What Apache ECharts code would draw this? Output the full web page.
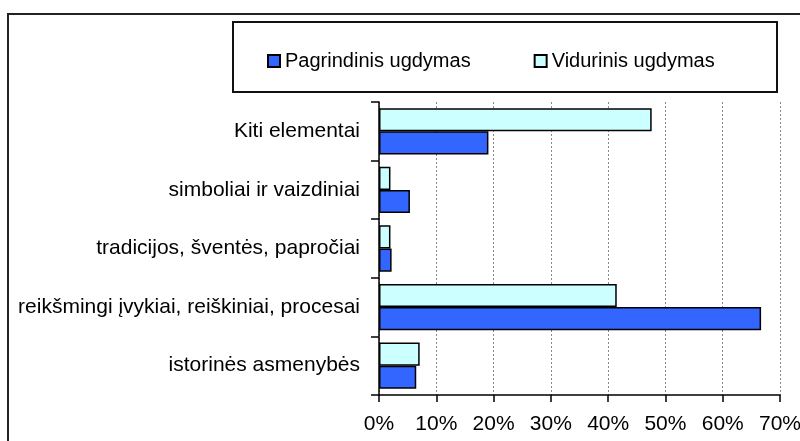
<!DOCTYPE html>
<html>
<head>
<meta charset="utf-8">
<script src="https://cdn.jsdelivr.net/npm/echarts@6/dist/echarts.min.js"></script>
<style>
  html, body { margin: 0; padding: 0; background: #fff; }
  #chart { width: 800px; height: 441px; }
</style>
</head>
<body>
<div id="chart"></div>
<script>
// categories, bottom to top (as drawn on the y axis)
var categories = [
  'istorinės asmenybės',
  'reikšmingi įvykiai, reiškiniai, procesai',
  'tradicijos, šventės, papročiai',
  'simboliai ir vaizdiniai',
  'Kiti elementai'
];
var seriesNames = ['Pagrindinis ugdymas', 'Vidurinis ugdymas'];
// percent values
var pagrindinis = [6.5, 66.7, 2.2, 5.4, 19.1];
var vidurinis = [7.1, 41.5, 2.0, 2.0, 47.6];
var xTicks = [0, 10, 20, 30, 40, 50, 60, 70];

var font = 'Liberation Sans, Arial, sans-serif';
var chart = echarts.init(document.getElementById('chart'));

chart.setOption({
  animation: false,
  backgroundColor: '#fff',
  textStyle: { fontFamily: font },
  graphic: [
    // outer chart frame (only top and left visible)
    { type: 'rect', shape: { x: 8, y: 14, width: 900, height: 600 },
      style: { fill: 'none', stroke: '#222', lineWidth: 2 }, z: -1 },
    // legend box
    { type: 'rect', shape: { x: 233, y: 22, width: 544, height: 70 },
      style: { fill: '#fff', stroke: '#111', lineWidth: 2 }, z: 0 }
  ],
  legend: {
    left: 262,
    top: 46,
    itemWidth: 12,
    itemHeight: 12,
    itemGap: 63,
    icon: 'rect',
    data: seriesNames,
    textStyle: { fontSize: 20, color: '#000', fontFamily: font },
    z: 10
  },
  grid: { left: 379, right: 20, top: 102, bottom: 46, outerBoundsMode: 'none', containLabel: false },
  xAxis: {
    type: 'value',
    min: 0,
    max: 70,
    interval: 10,
    axisLine: { show: true, lineStyle: { color: '#000', width: 1.5 } },
    axisTick: { show: true, length: 7, lineStyle: { color: '#000', width: 1.5 } },
    axisLabel: {
      color: '#000', fontSize: 21, margin: 19,
      formatter: function (v) { return xTicks.indexOf(v) >= 0 ? v + '%' : ''; }
    },
    splitLine: { show: true, lineStyle: { color: '#888', type: [2, 2], width: 1 } }
  },
  yAxis: {
    type: 'category',
    data: categories,
    axisLine: { show: true, lineStyle: { color: '#000', width: 1.5 } },
    axisTick: { show: true, length: 8, lineStyle: { color: '#000', width: 1.5 } },
    axisLabel: { color: '#000', fontSize: 21, margin: 19 }
  },
  // Vidurinis listed first so it sits above Pagrindinis inside each band
  series: [
    {
      name: seriesNames[1],
      type: 'bar',
      data: vidurinis,
      barGap: '0%',
      barCategoryGap: '21%',
      itemStyle: { color: '#CCFFFF', borderColor: '#000', borderWidth: 1.5 }
    },
    {
      name: seriesNames[0],
      type: 'bar',
      data: pagrindinis,
      barGap: '0%',
      barCategoryGap: '21%',
      itemStyle: { color: '#3366FF', borderColor: '#000', borderWidth: 1.5 }
    }
  ]
});
</script>
</body>
</html>
